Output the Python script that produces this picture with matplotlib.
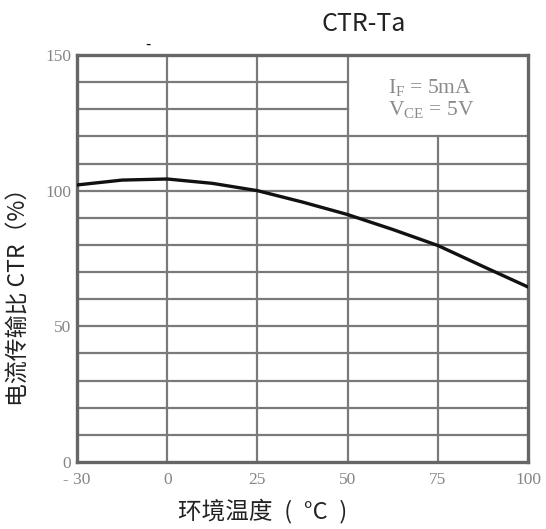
import numpy as np
import matplotlib
matplotlib.use("Agg")
import matplotlib.pyplot as plt

# ---- data ----
tick_temps = [-30, 0, 25, 50, 75, 100]
tick_labels = ["- 30", "0", "25", "50", "75", "100"]
y_ticks = [0, 50, 100, 150]
temps = [-30, -15, 0, 12.5, 25, 37.5, 50, 62.5, 75, 87.5, 100]
ctr = [102.1, 103.9, 104.3, 102.7, 100.0, 95.8, 91.2, 85.7, 79.8, 72.1, 64.5]

plt.rcParams['font.family'] = ['Noto Sans CJK SC', 'DejaVu Sans']

fig = plt.figure(figsize=(5.46, 5.29), dpi=100)
ax = fig.add_axes([77/546, 1 - 462/529, (528-77)/546, (462-55)/529])

pos = np.arange(len(tick_temps), dtype=float)
def fwd(t):
    return np.interp(t, tick_temps, pos)
def inv(p):
    return np.interp(p, pos, tick_temps)
ax.set_xscale('function', functions=(fwd, inv))
ax.set_xlim(-30, 100)
ax.set_ylim(0, 150)

gcol = '#7a7a7a'
for yv in range(10, 150, 10):
    if yv in (130, 140):
        ax.axhline(yv, xmin=0, xmax=0.6, color=gcol, lw=1.6, zorder=1)
    else:
        ax.axhline(yv, color=gcol, lw=1.6, zorder=1)
for xv in tick_temps[1:-1]:
    if xv == 75:
        ax.axvline(xv, ymin=0, ymax=0.8, color=gcol, lw=1.6, zorder=1)
    else:
        ax.axvline(xv, color=gcol, lw=1.6, zorder=1)

ax.plot(temps, ctr, color='#111111', lw=2.4, zorder=3, solid_capstyle='round')

for s in ax.spines.values():
    s.set_color('#666666')
    s.set_linewidth(2.4)

ax.set_xticks(tick_temps)
ax.set_xticklabels(tick_labels)
ax.set_yticks(y_ticks)
ax.set_yticklabels([str(v) for v in y_ticks])
ax.xaxis.set_minor_locator(matplotlib.ticker.NullLocator())
ax.tick_params(length=0, labelsize=12.5, labelcolor='#858585')
ax.tick_params(axis='x', pad=7)
ax.tick_params(axis='y', pad=4)
for lab in ax.get_xticklabels() + ax.get_yticklabels():
    lab.set_family(['Liberation Serif'])

ax.text(0.69, 0.919, r"I$_\mathregular{F}$ = 5mA", transform=ax.transAxes,
        family='Liberation Serif', fontsize=15.5, color='#8a8a8a', ha='left', va='center')
ax.text(0.69, 0.865, r"V$_\mathregular{CE}$ = 5V", transform=ax.transAxes,
        family='Liberation Serif', fontsize=15.5, color='#8a8a8a', ha='left', va='center')

fig.text(364/546, 1 - 24/529, "CTR-Ta", fontsize=18, color='#222222', ha='center', va='center')
fig.text(148/546, 1 - 44/529, "-", fontsize=11, color='#111111', ha='center', va='center')
fig.text(19/546, 1 - 291/529, "电流传输比 CTR（%）", rotation=90, fontsize=16.5,
         color='#222222', ha='center', va='center')
fig.text(263/546, 1 - 511/529, "环境温度\u2002(\u2002°C\u2002)", fontsize=17, color='#222222',
         ha='center', va='center')

fig.savefig("out.png", dpi=100)
